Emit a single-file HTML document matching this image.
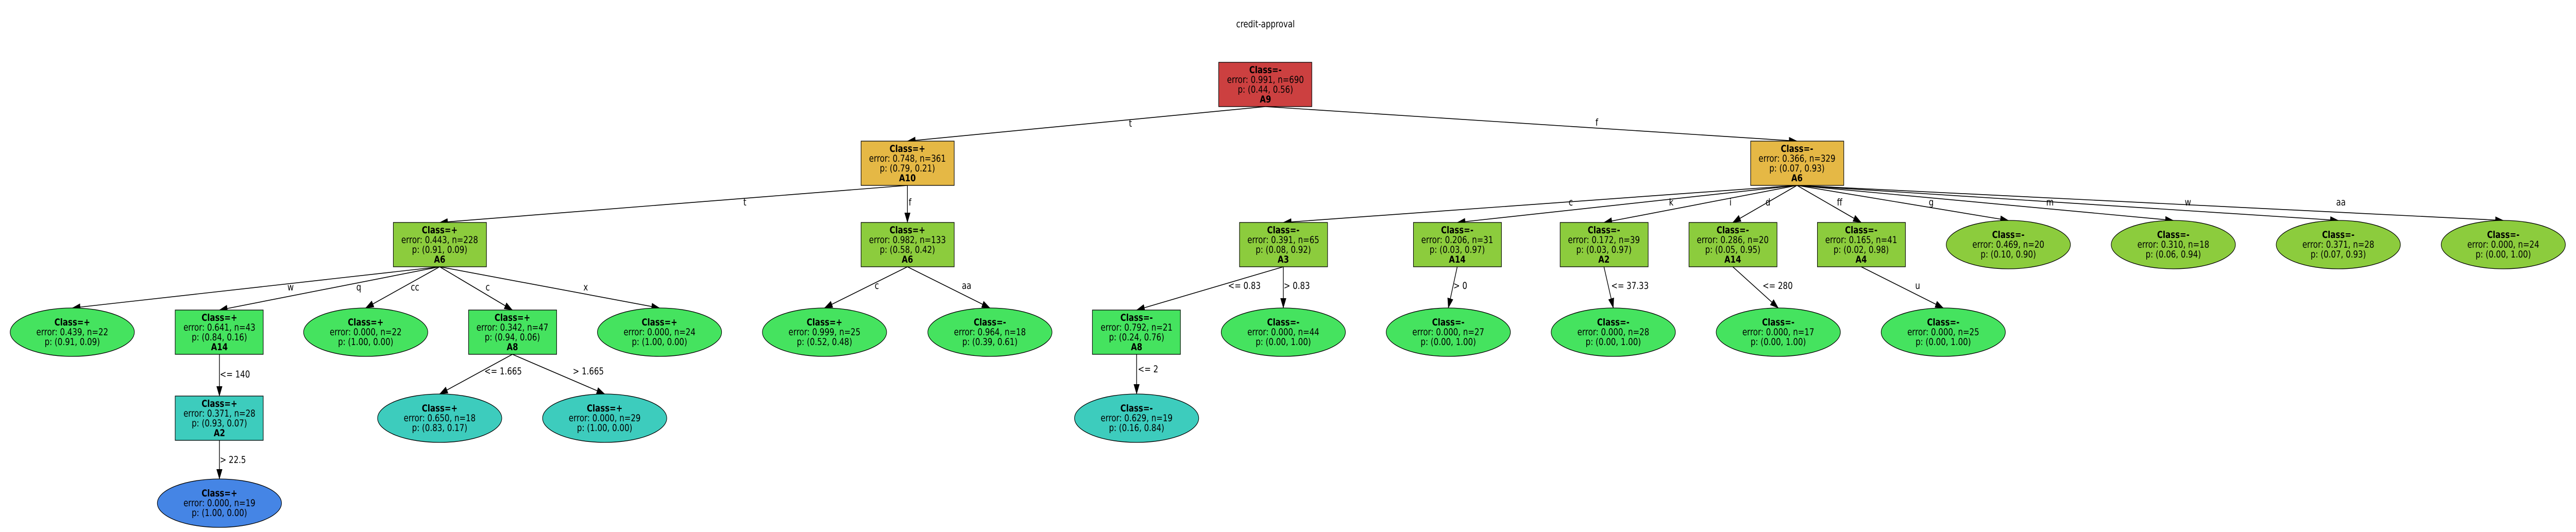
<!DOCTYPE html>
<html><head><meta charset="utf-8"><style>
html,body{margin:0;padding:0;background:#fff;overflow:hidden;width:100%;height:100%;}
svg{display:block;width:100vw;height:100vh;}
text{font-family:"DejaVu Sans","Liberation Sans",sans-serif;font-size:18.2px;fill:#000;}
.b{font-weight:bold;}
.n{text-anchor:middle;}
</style></head><body>
<svg viewBox="0 0 6058 1033" preserveAspectRatio="none" xmlns="http://www.w3.org/2000/svg">
<defs>
<marker id="ah" markerUnits="userSpaceOnUse" markerWidth="20" markerHeight="14" viewBox="0 0 20 14" refX="19" refY="7" orient="auto">
<path d="M0,0 L20,7 L0,14 z" fill="#000"/>
</marker>
</defs>
<text class="n" x="2976" y="53">credit-approval</text>
<g stroke="#000" stroke-width="1.6" fill="none" marker-end="url(#ah)">
<line x1="2976" y1="207" x2="2134" y2="274"/>
<line x1="2976" y1="207" x2="4226" y2="274"/>
<line x1="2134" y1="360" x2="1034" y2="432"/>
<line x1="2134" y1="360" x2="2134" y2="432"/>
<line x1="4226" y1="360" x2="3018" y2="432"/>
<line x1="4226" y1="360" x2="3427" y2="432"/>
<line x1="4226" y1="360" x2="3772" y2="432"/>
<line x1="4226" y1="360" x2="4075" y2="432"/>
<line x1="4226" y1="360" x2="4377" y2="432"/>
<line x1="4226" y1="360" x2="4723" y2="428"/>
<line x1="4226" y1="360" x2="5111" y2="428"/>
<line x1="4226" y1="360" x2="5499" y2="428"/>
<line x1="4226" y1="360" x2="5887" y2="428"/>
<line x1="1034" y1="518" x2="170" y2="598"/>
<line x1="1034" y1="518" x2="516" y2="602"/>
<line x1="1034" y1="518" x2="860" y2="598"/>
<line x1="1034" y1="518" x2="1205" y2="602"/>
<line x1="1034" y1="518" x2="1551" y2="598"/>
<line x1="2134" y1="518" x2="1939" y2="598"/>
<line x1="2134" y1="518" x2="2328" y2="598"/>
<line x1="3018" y1="518" x2="2673" y2="602"/>
<line x1="3018" y1="518" x2="3018" y2="598"/>
<line x1="3427" y1="518" x2="3406" y2="598"/>
<line x1="3772" y1="518" x2="3794" y2="598"/>
<line x1="4075" y1="518" x2="4182" y2="598"/>
<line x1="4377" y1="518" x2="4570" y2="598"/>
<line x1="516" y1="688" x2="516" y2="769"/>
<line x1="1205" y1="688" x2="1034" y2="765"/>
<line x1="1205" y1="688" x2="1422" y2="765"/>
<line x1="2673" y1="688" x2="2673" y2="765"/>
<line x1="516" y1="855" x2="516" y2="930"/>
</g>
<g>
<text x="2655" y="246">t</text>
<text x="3752" y="244">f</text>
<text x="1748" y="399">t</text>
<text x="2137" y="399">f</text>
<text x="676" y="564">w</text>
<text x="838" y="564">q</text>
<text x="966" y="564">cc</text>
<text x="1142" y="564">c</text>
<text x="1372" y="564">x</text>
<text x="2057" y="561">c</text>
<text x="2262" y="561">aa</text>
<text x="2888" y="561">&lt;= 0.83</text>
<text x="3019" y="561">&gt; 0.83</text>
<text x="3418" y="561">&gt; 0</text>
<text x="3789" y="561">&lt;= 37.33</text>
<text x="4145" y="561">&lt;= 280</text>
<text x="4504" y="561">u</text>
<text x="3689" y="399">c</text>
<text x="3925" y="399">k</text>
<text x="4067" y="399">i</text>
<text x="4152" y="399">d</text>
<text x="4320" y="399">ff</text>
<text x="4536" y="399">g</text>
<text x="4812" y="399">m</text>
<text x="5138" y="399">w</text>
<text x="5494" y="399">aa</text>
<text x="517" y="733">&lt;= 140</text>
<text x="1139" y="727">&lt;= 1.665</text>
<text x="1347" y="727">&gt; 1.665</text>
<text x="2676" y="723">&lt;= 2</text>
<text x="517" y="899">&gt; 22.5</text>
</g>
<g stroke="#000" stroke-width="1.3">
<rect x="2866" y="121" width="219" height="86" fill="#cc4040"/>
<rect x="2025" y="274" width="219" height="86" fill="#e5b845"/>
<rect x="4117" y="274" width="219" height="86" fill="#e5b845"/>
<rect x="925" y="432" width="219" height="86" fill="#8ccc3d"/>
<rect x="2025" y="432" width="219" height="86" fill="#8ccc3d"/>
<rect x="2915" y="432" width="207" height="86" fill="#8ccc3d"/>
<rect x="3324" y="432" width="207" height="86" fill="#8ccc3d"/>
<rect x="3669" y="432" width="207" height="86" fill="#8ccc3d"/>
<rect x="3972" y="432" width="207" height="86" fill="#8ccc3d"/>
<rect x="4274" y="432" width="207" height="86" fill="#8ccc3d"/>
<ellipse cx="4723" cy="475" rx="146" ry="47" fill="#8ccc3d"/>
<ellipse cx="5111" cy="475" rx="146" ry="47" fill="#8ccc3d"/>
<ellipse cx="5499" cy="475" rx="146" ry="47" fill="#8ccc3d"/>
<ellipse cx="5887" cy="475" rx="146" ry="47" fill="#8ccc3d"/>
<ellipse cx="170" cy="645" rx="146" ry="47" fill="#45e35f"/>
<rect x="412" y="602" width="207" height="86" fill="#45e35f"/>
<ellipse cx="860" cy="645" rx="146" ry="47" fill="#45e35f"/>
<rect x="1102" y="602" width="207" height="86" fill="#45e35f"/>
<ellipse cx="1551" cy="645" rx="146" ry="47" fill="#45e35f"/>
<ellipse cx="1939" cy="645" rx="146" ry="47" fill="#45e35f"/>
<ellipse cx="2328" cy="645" rx="146" ry="47" fill="#45e35f"/>
<rect x="2569" y="602" width="207" height="86" fill="#45e35f"/>
<ellipse cx="3018" cy="645" rx="146" ry="47" fill="#45e35f"/>
<ellipse cx="3406" cy="645" rx="146" ry="47" fill="#45e35f"/>
<ellipse cx="3794" cy="645" rx="146" ry="47" fill="#45e35f"/>
<ellipse cx="4182" cy="645" rx="146" ry="47" fill="#45e35f"/>
<ellipse cx="4570" cy="645" rx="146" ry="47" fill="#45e35f"/>
<rect x="412" y="769" width="207" height="86" fill="#3dccbd"/>
<ellipse cx="1034" cy="812" rx="146" ry="47" fill="#3dccbd"/>
<ellipse cx="1422" cy="812" rx="146" ry="47" fill="#3dccbd"/>
<ellipse cx="2673" cy="812" rx="146" ry="47" fill="#3dccbd"/>
<ellipse cx="516" cy="977" rx="146" ry="47" fill="#4585e5"/>
</g>
<g class="n">
<text class="n b" x="2976" y="142">Class=-</text><text class="n" x="2976" y="161">error: 0.991, n=690</text><text class="n" x="2976" y="180">p: (0.44, 0.56)</text><text class="n b" x="2976" y="199">A9</text>
<text class="n b" x="2134" y="295">Class=+</text><text class="n" x="2134" y="314">error: 0.748, n=361</text><text class="n" x="2134" y="333">p: (0.79, 0.21)</text><text class="n b" x="2134" y="352">A10</text>
<text class="n b" x="4226" y="295">Class=-</text><text class="n" x="4226" y="314">error: 0.366, n=329</text><text class="n" x="4226" y="333">p: (0.07, 0.93)</text><text class="n b" x="4226" y="352">A6</text>
<text class="n b" x="1034" y="453">Class=+</text><text class="n" x="1034" y="472">error: 0.443, n=228</text><text class="n" x="1034" y="491">p: (0.91, 0.09)</text><text class="n b" x="1034" y="510">A6</text>
<text class="n b" x="2134" y="453">Class=+</text><text class="n" x="2134" y="472">error: 0.982, n=133</text><text class="n" x="2134" y="491">p: (0.58, 0.42)</text><text class="n b" x="2134" y="510">A6</text>
<text class="n b" x="3018" y="453">Class=-</text><text class="n" x="3018" y="472">error: 0.391, n=65</text><text class="n" x="3018" y="491">p: (0.08, 0.92)</text><text class="n b" x="3018" y="510">A3</text>
<text class="n b" x="3427" y="453">Class=-</text><text class="n" x="3427" y="472">error: 0.206, n=31</text><text class="n" x="3427" y="491">p: (0.03, 0.97)</text><text class="n b" x="3427" y="510">A14</text>
<text class="n b" x="3772" y="453">Class=-</text><text class="n" x="3772" y="472">error: 0.172, n=39</text><text class="n" x="3772" y="491">p: (0.03, 0.97)</text><text class="n b" x="3772" y="510">A2</text>
<text class="n b" x="4075" y="453">Class=-</text><text class="n" x="4075" y="472">error: 0.286, n=20</text><text class="n" x="4075" y="491">p: (0.05, 0.95)</text><text class="n b" x="4075" y="510">A14</text>
<text class="n b" x="4377" y="453">Class=-</text><text class="n" x="4377" y="472">error: 0.165, n=41</text><text class="n" x="4377" y="491">p: (0.02, 0.98)</text><text class="n b" x="4377" y="510">A4</text>
<text class="n b" x="4723" y="462">Class=-</text><text class="n" x="4723" y="481">error: 0.469, n=20</text><text class="n" x="4723" y="500">p: (0.10, 0.90)</text>
<text class="n b" x="5111" y="462">Class=-</text><text class="n" x="5111" y="481">error: 0.310, n=18</text><text class="n" x="5111" y="500">p: (0.06, 0.94)</text>
<text class="n b" x="5499" y="462">Class=-</text><text class="n" x="5499" y="481">error: 0.371, n=28</text><text class="n" x="5499" y="500">p: (0.07, 0.93)</text>
<text class="n b" x="5887" y="462">Class=-</text><text class="n" x="5887" y="481">error: 0.000, n=24</text><text class="n" x="5887" y="500">p: (0.00, 1.00)</text>
<text class="n b" x="170" y="632">Class=+</text><text class="n" x="170" y="651">error: 0.439, n=22</text><text class="n" x="170" y="670">p: (0.91, 0.09)</text>
<text class="n b" x="516" y="623">Class=+</text><text class="n" x="516" y="642">error: 0.641, n=43</text><text class="n" x="516" y="661">p: (0.84, 0.16)</text><text class="n b" x="516" y="680">A14</text>
<text class="n b" x="860" y="632">Class=+</text><text class="n" x="860" y="651">error: 0.000, n=22</text><text class="n" x="860" y="670">p: (1.00, 0.00)</text>
<text class="n b" x="1205" y="623">Class=+</text><text class="n" x="1205" y="642">error: 0.342, n=47</text><text class="n" x="1205" y="661">p: (0.94, 0.06)</text><text class="n b" x="1205" y="680">A8</text>
<text class="n b" x="1551" y="632">Class=+</text><text class="n" x="1551" y="651">error: 0.000, n=24</text><text class="n" x="1551" y="670">p: (1.00, 0.00)</text>
<text class="n b" x="1939" y="632">Class=+</text><text class="n" x="1939" y="651">error: 0.999, n=25</text><text class="n" x="1939" y="670">p: (0.52, 0.48)</text>
<text class="n b" x="2328" y="632">Class=-</text><text class="n" x="2328" y="651">error: 0.964, n=18</text><text class="n" x="2328" y="670">p: (0.39, 0.61)</text>
<text class="n b" x="2673" y="623">Class=-</text><text class="n" x="2673" y="642">error: 0.792, n=21</text><text class="n" x="2673" y="661">p: (0.24, 0.76)</text><text class="n b" x="2673" y="680">A8</text>
<text class="n b" x="3018" y="632">Class=-</text><text class="n" x="3018" y="651">error: 0.000, n=44</text><text class="n" x="3018" y="670">p: (0.00, 1.00)</text>
<text class="n b" x="3406" y="632">Class=-</text><text class="n" x="3406" y="651">error: 0.000, n=27</text><text class="n" x="3406" y="670">p: (0.00, 1.00)</text>
<text class="n b" x="3794" y="632">Class=-</text><text class="n" x="3794" y="651">error: 0.000, n=28</text><text class="n" x="3794" y="670">p: (0.00, 1.00)</text>
<text class="n b" x="4182" y="632">Class=-</text><text class="n" x="4182" y="651">error: 0.000, n=17</text><text class="n" x="4182" y="670">p: (0.00, 1.00)</text>
<text class="n b" x="4570" y="632">Class=-</text><text class="n" x="4570" y="651">error: 0.000, n=25</text><text class="n" x="4570" y="670">p: (0.00, 1.00)</text>
<text class="n b" x="516" y="790">Class=+</text><text class="n" x="516" y="809">error: 0.371, n=28</text><text class="n" x="516" y="828">p: (0.93, 0.07)</text><text class="n b" x="516" y="847">A2</text>
<text class="n b" x="1034" y="799">Class=+</text><text class="n" x="1034" y="818">error: 0.650, n=18</text><text class="n" x="1034" y="837">p: (0.83, 0.17)</text>
<text class="n b" x="1422" y="799">Class=+</text><text class="n" x="1422" y="818">error: 0.000, n=29</text><text class="n" x="1422" y="837">p: (1.00, 0.00)</text>
<text class="n b" x="2673" y="799">Class=-</text><text class="n" x="2673" y="818">error: 0.629, n=19</text><text class="n" x="2673" y="837">p: (0.16, 0.84)</text>
<text class="n b" x="516" y="964">Class=+</text><text class="n" x="516" y="983">error: 0.000, n=19</text><text class="n" x="516" y="1002">p: (1.00, 0.00)</text>
</g>
</svg>
</body></html>
